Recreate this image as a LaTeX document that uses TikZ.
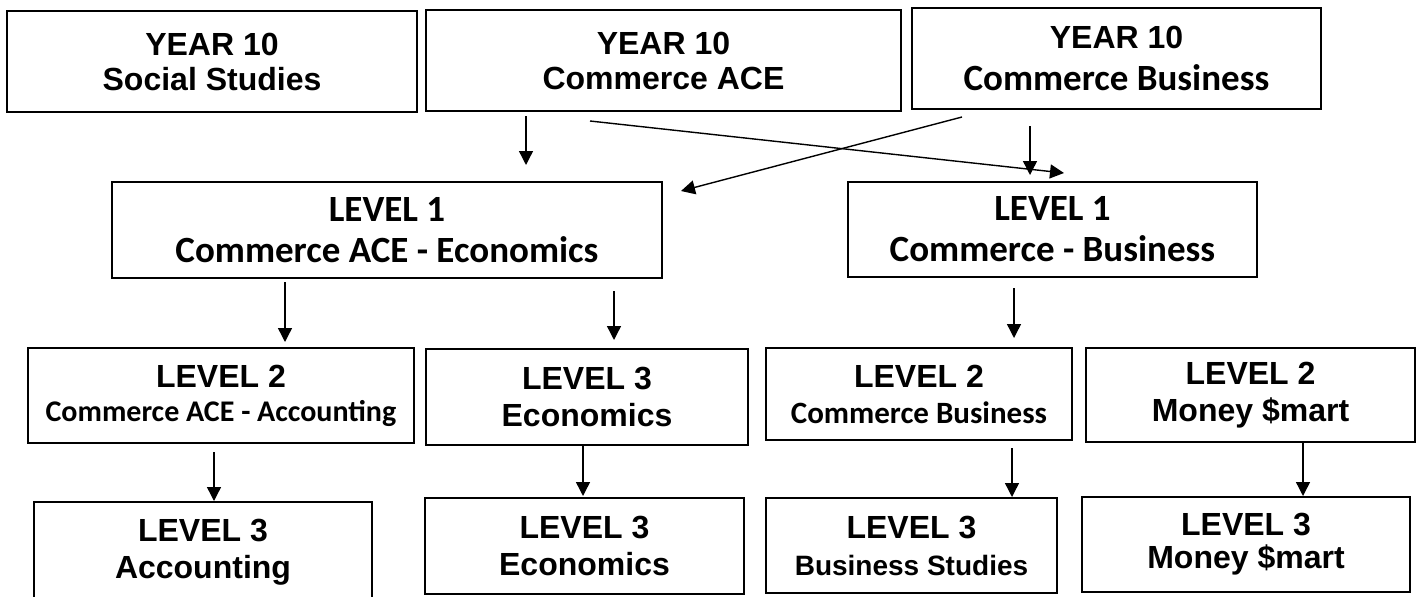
\documentclass[tikz,border=0pt]{standalone}
\usepackage{fontspec}
\newfontfamily\arialf{Liberation Sans}
\newfontfamily\calf{Carlito}
\usetikzlibrary{arrows.meta}
\newcommand\fa{\arialf\bfseries\fontsize{32}{35}\selectfont}
\newcommand\fas{\arialf\bfseries\fontsize{28}{34}\selectfont}
\newcommand\fc{\calf\bfseries\fontsize{37}{41}\selectfont}
\newcommand\fcs{\calf\bfseries\fontsize{30}{34}\selectfont}
\newcommand\fcm{\calf\bfseries\fontsize{31}{35}\selectfont}
\tikzset{
  box/.style={draw, line width=1.8pt, inner sep=0pt, align=center,
    font=\arialf\bfseries\fontsize{32}{#1}\selectfont},
  box/.default=37,
  arr/.style={line width=1.4pt, -{Triangle[length=14pt,width=14pt]}}
}
\begin{document}
\begin{tikzpicture}[x=1pt,y=-1pt]
\useasboundingbox (0,0) rectangle (1419,597);
% row 1
\node[box=35, minimum width=410, minimum height=101] (A) at (212,61.5) {\fa YEAR 10\\\fa Social Studies};
\node[box=35, minimum width=475, minimum height=101] (B) at (663.5,60.5) {\fa YEAR 10\\\fa Commerce ACE};
\node[box=42, minimum width=409, minimum height=101] (C) at (1116.5,58.5) {\fa YEAR 10\\\fc Commerce Business};
% row 2
\node[box=41, minimum width=550, minimum height=96] (D) at (387,230) {\fc LEVEL 1\\\fc Commerce ACE - Economics};
\node[box=41, minimum width=409, minimum height=95] (E) at (1052.5,229.5) {\fc LEVEL 1\\\fc Commerce - Business};
% row 3
\node[box=34, minimum width=386, minimum height=95] (F) at (221,395.5) {\fa LEVEL 2\\\fcs Commerce ACE - Accounting};
\node[box=37, minimum width=322, minimum height=96] (G) at (587,397) {\fa LEVEL 3\\\fa Economics};
\node[box=36, minimum width=306, minimum height=92] (H) at (919,394) {\fa LEVEL 2\\\fcm Commerce Business};
\node[box=37, minimum width=329, minimum height=94] (I) at (1250.5,395) {\fa LEVEL 2\\\fa Money \$mart};
% row 4
\node[box=37, minimum width=338, minimum height=100] (J) at (203,552) {\fa LEVEL 3\\\fa Accounting};
\node[box=37, minimum width=319, minimum height=96] (K) at (584.5,546) {\fa LEVEL 3\\\fa Economics};
\node[box=37, minimum width=291, minimum height=95] (L) at (911.5,545.5) {\fa LEVEL 3\\\fas Business Studies};
\node[box=33, minimum width=328, minimum height=95] (M) at (1246,544.5) {\fa LEVEL 3\\\fa Money \$mart};
% connector end points
\coordinate (a1s) at (526,116);  \coordinate (a1e) at (526,165);
\coordinate (a2s) at (590,121);  \coordinate (a2e) at (1064,173);
\coordinate (a3s) at (962,117);  \coordinate (a3e) at (681,191);
\coordinate (a4s) at (1030,126); \coordinate (a4e) at (1030,175);
\coordinate (a5s) at (285,282);  \coordinate (a5e) at (285,342);
\coordinate (a6s) at (614,291);  \coordinate (a6e) at (614,340);
\coordinate (a7s) at (1014,288); \coordinate (a7e) at (1014,338);
\coordinate (a8s) at (214,452);  \coordinate (a8e) at (214,501);
\coordinate (a9s) at (583,445);  \coordinate (a9e) at (583,496);
\coordinate (a10s) at (1012,448); \coordinate (a10e) at (1012,497);
\coordinate (a11s) at (1303,442); \coordinate (a11e) at (1303,496);
\foreach \i in {1,...,11} {\draw[arr] (a\i s) -- (a\i e);}
\end{tikzpicture}
\end{document}
